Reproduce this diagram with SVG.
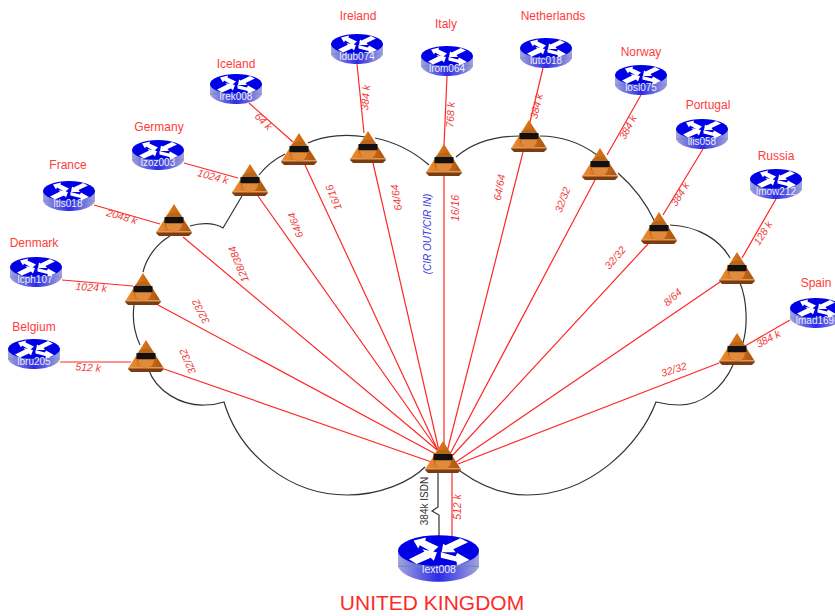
<svg xmlns="http://www.w3.org/2000/svg" width="835" height="616" viewBox="0 0 835 616">
<style>
text{font-family:"Liberation Sans",Arial,sans-serif}
.c{font-size:12px;fill:#ff3b3b;text-anchor:middle}
.l{font-size:10.500px;font-style:italic;fill:#f23c3c;text-anchor:middle}
.r{font-size:10px;fill:#eeeeff;text-anchor:middle}
.red{stroke:#ff2828;stroke-width:1.200;fill:none}
.blk{stroke:#333;stroke-width:1.200;fill:none}
</style>
<defs>
<linearGradient id="side" x1="0" x2="1" y1="0" y2="0"><stop offset="0" stop-color="#a4a4dc"/><stop offset=".5" stop-color="#2c2ce6"/><stop offset="1" stop-color="#a4a4dc"/></linearGradient>
<linearGradient id="tri" x1="0" x2="1" y1="0" y2="0"><stop offset="0" stop-color="#ee8e30"/><stop offset=".55" stop-color="#d06c14"/><stop offset="1" stop-color="#a85410"/></linearGradient>
<symbol id="router" viewBox="0 0 52 30" overflow="visible">
<path d="M0 10V19C0 25 12 30 26 30S52 25 52 19V10Z" fill="url(#side)"/>
<ellipse cx="26" cy="10" rx="26" ry="10" fill="#0000e6"/>
<path d="M10 3.500L18 1.500L17.500 3.500L26 7.500L22 11L14 6.500L13 8.500ZM28 11L29 5.500L30.500 6.500L40 2L45 4.500L35.500 9L37 11ZM7 15.500L17 10.500L15.500 9L25 11L23 16.500L21 14.500L12 18.500ZM27.500 11L37 13.500L38 11.500L46 16L38 19.500L37.500 17L27.500 14.500Z" fill="#fff"/>
<path d="M0 20H52" stroke="#5a8fb0" stroke-width=".6"/>
</symbol>
<g id="tr">
<path d="M0 -16L17 11V14H-17V11Z" fill="url(#tri)"/>
<path d="M-17 11H17L18 13L15 16H-15L-18 13Z" fill="#7a3c10"/>
<path d="M-17 11H17L18 12.500H-18Z" fill="#e0985a"/>
<circle cx="0" cy="2" r="9.500" fill="#b8661c"/>
<path d="M-8 4A8 8 0 0 0 8 4Z" fill="#e08a3c"/>
<rect x="-9.500" y="-3" width="19" height="6" fill="#111"/>
</g>
</defs>
<g id="connectors">
<path class="blk" d="M148 368C156 392 182 406 205 405C212 405 218 404 224 402C240 455 290 495 347 495C380 495 410 482 425 467"/>
<path class="blk" d="M134 305C132 320 134 332 140 345M143 272C147 256 158 243 170 236M190 226C202 222 215 223 223 228L242 196M259 175C266 166 275 159 285 154M308 143C325 135 348 134 366 137M375 138C395 142 414 152 429 165M456 157C472 143 495 136 520 136M540 136C562 136 582 144 597 155M618 173C633 186 646 203 655 222M670 225C698 226 720 240 730 258M740 283C747 300 748 325 743 343M733 365C722 390 700 405 680 405C672 405 664 404 656 402C640 445 590 495 527 495C500 495 478 484 460 471"/>
<path class="blk" d="M438 473V507L432 511L439 515V536"/>
<path class="red" d="M452 473V536"/>
<path class="red" d="M60 362H131M62 280L133 286M94 205L160 224M184 163L238 178M249 103L293 142M357 64L364 133M447 76L444 146M543 68L530 122M641 95L607 155M703 149L663 215M776 199L742 258M790 320L745 346"/>
<path class="red" d="M164 369L443 466M158 305L443 458M183 237L443 455M258 196L440 453M305 165L440 455M373 163L440 455M444 176V450M523 152L447 452M595 180L450 454M648 244L452 456M720 282L456 462M719 363L458 464"/>
</g>
<g id="labels">
<g class="l">
<text x="88" y="371" transform="rotate(3 88 371)">512 k</text>
<text x="91" y="291" transform="rotate(4 91 291)">1024 k</text>
<text x="121" y="220" transform="rotate(16 121 220)">2048 k</text>
<text x="212" y="180" transform="rotate(15 212 180)">1024 k</text>
<text x="261" y="124" transform="rotate(45 261 124)">64 k</text>
<text x="369" y="98" transform="rotate(-85 369 98)">384 k</text>
<text x="454" y="115" transform="rotate(-87 454 115)">768 k</text>
<text x="540" y="107" transform="rotate(-76 540 107)">384 k</text>
<text x="631" y="129" transform="rotate(-62 631 129)">384 k</text>
<text x="683" y="196" transform="rotate(-58 683 196)">384 k</text>
<text x="766" y="235" transform="rotate(-58 766 235)">128 k</text>
<text x="770" y="342" transform="rotate(-28 770 342)">384 k</text>
<text x="191" y="360" transform="rotate(-114 191 360)">32/32</text>
<text x="204" y="310" transform="rotate(-117 204 310)">32/32</text>
<text x="242" y="263" transform="rotate(-112 242 263)">128/384</text>
<text x="299" y="224" transform="rotate(-110 299 224)">64/64</text>
<text x="337" y="196" transform="rotate(-112 337 196)">16/16</text>
<text x="400" y="197" transform="rotate(-99 400 197)">64/64</text>
<text x="459" y="208" transform="rotate(-90 459 208)">16/16</text>
<text x="503" y="188" transform="rotate(-80 503 188)">64/64</text>
<text x="566" y="201" transform="rotate(-70 566 201)">32/32</text>
<text x="618" y="260" transform="rotate(-50 618 260)">32/32</text>
<text x="675" y="300" transform="rotate(-42 675 300)">8/64</text>
<text x="675" y="373" transform="rotate(-18 675 373)">32/32</text>
<text x="461" y="507" transform="rotate(-90 461 507)">512 k</text>
</g>
<text x="431" y="234" transform="rotate(-90 431 234)" style="font-size:10px;font-style:italic;fill:#3a3ae0;text-anchor:middle">(CIR OUT/CIR IN)</text>
<text x="428" y="501" transform="rotate(-90 428 501)" style="font-size:10px;fill:#333;text-anchor:middle">384k ISDN</text>
</g>
<g id="uk"><use href="#tr" x="443" y="457"/><use href="#router" x="398" y="535" width="81" height="47"/><text class="r" x="439" y="573" style="font-size:10.500px">lext008</text><text x="432" y="610" style="font-size:21px;fill:#ff2a2a;text-anchor:middle">UNITED KINGDOM</text></g>
<g id="belgium"><use href="#tr" x="146" y="356"/><use href="#router" x="8" y="339" width="52" height="30"/><text class="r" x="34" y="365">lbru205</text><text class="c" x="34" y="331">Belgium</text></g>
<g id="denmark"><use href="#tr" x="143" y="289"/><use href="#router" x="10" y="257" width="52" height="30"/><text class="r" x="35" y="283">lcph107</text><text class="c" x="34" y="247">Denmark</text></g>
<g id="france"><use href="#tr" x="174" y="220"/><use href="#router" x="43" y="181" width="52" height="30"/><text class="r" x="68" y="207">ltls018</text><text class="c" x="68" y="169">France</text></g>
<g id="germany"><use href="#tr" x="250" y="180"/><use href="#router" x="132" y="140" width="52" height="30"/><text class="r" x="158" y="166">lzoz003</text><text class="c" x="159" y="131">Germany</text></g>
<g id="iceland"><use href="#tr" x="299" y="149"/><use href="#router" x="210" y="74" width="52" height="30"/><text class="r" x="236" y="100">lrek008</text><text class="c" x="236" y="68">Iceland</text></g>
<g id="ireland"><use href="#tr" x="368" y="147"/><use href="#router" x="331" y="34" width="52" height="30"/><text class="r" x="357" y="60">ldub074</text><text class="c" x="358" y="20">Ireland</text></g>
<g id="italy"><use href="#tr" x="444" y="160"/><use href="#router" x="421" y="46" width="52" height="30"/><text class="r" x="447" y="72">lrom064</text><text class="c" x="446" y="28">Italy</text></g>
<g id="netherlands"><use href="#tr" x="529" y="136"/><use href="#router" x="520" y="38" width="52" height="30"/><text class="r" x="546" y="64">lutc018</text><text class="c" x="553" y="20">Netherlands</text></g>
<g id="norway"><use href="#tr" x="600" y="164"/><use href="#router" x="615" y="65" width="52" height="30"/><text class="r" x="641" y="91">losl075</text><text class="c" x="641" y="56">Norway</text></g>
<g id="portugal"><use href="#tr" x="659" y="228"/><use href="#router" x="676" y="119" width="52" height="30"/><text class="r" x="702" y="145">llis058</text><text class="c" x="708" y="109">Portugal</text></g>
<g id="russia"><use href="#tr" x="737" y="268"/><use href="#router" x="750" y="169" width="52" height="30"/><text class="r" x="776" y="195">lmow212</text><text class="c" x="776" y="160">Russia</text></g>
<g id="spain"><use href="#tr" x="737" y="349"/><use href="#router" x="790" y="298" width="52" height="30"/><text class="r" x="815" y="324">lmad169</text><text class="c" x="816" y="287">Spain</text></g>
</svg>
